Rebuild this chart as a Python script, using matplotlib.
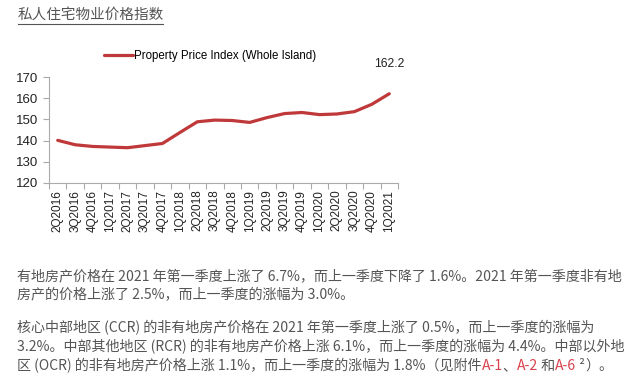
import matplotlib
matplotlib.use('Agg')
import matplotlib.pyplot as plt
from matplotlib.lines import Line2D
import numpy as np

plt.rcParams['font.family'] = ['Liberation Sans', 'DejaVu Sans']

# data
quarters = ['2Q2016', '3Q2016', '4Q2016', '1Q2017', '2Q2017', '3Q2017', '4Q2017',
            '1Q2018', '2Q2018', '3Q2018', '4Q2018', '1Q2019', '2Q2019', '3Q2019',
            '4Q2019', '1Q2020', '2Q2020', '3Q2020', '4Q2020', '1Q2021']
ppi = [140.1, 138.0, 137.2, 136.9, 136.6, 137.6, 138.6,
       143.8, 148.9, 149.7, 149.5, 148.6, 150.9, 152.8,
       153.3, 152.3, 152.6, 153.7, 157.2, 162.2]
yticks = [120, 130, 140, 150, 160, 170]
legend_label = 'Property Price Index (Whole Island)'
title = '私人住宅物业价格指数'

para_lines = [
    [('有地房产价格在 2021 年第一季度上涨了 6.7%，而上一季度下降了 1.6%。2021 年第一季度非有地', 'g')],
    [('房产的价格上涨了 2.5%，而上一季度的涨幅为 3.0%。', 'g')],
    [('核心中部地区 (CCR) 的非有地房产价格在 2021 年第一季度上涨了 0.5%，而上一季度的涨幅为', 'g')],
    [('3.2%。中部其他地区 (RCR) 的非有地房产价格上涨 6.1%，而上一季度的涨幅为 4.4%。中部以外地', 'g')],
    [('区 (OCR) 的非有地房产价格上涨 1.1%，而上一季度的涨幅为 1.8%（见附件', 'g'),
     ('A-1', 'r'), ('、', 'g'), ('A-2', 'r'), (' 和', 'g'), ('A-6', 'r'),
     (' ²', 'g'), ('）。', 'g')],
]
line_y = [276.5, 295.5, 328, 347, 366]

W, H = 640, 381
fig = plt.figure(figsize=(W / 100, H / 100), dpi=100)
fig.patch.set_facecolor('white')

ax = fig.add_axes([49 / W, 1 - 182.7 / H, (398 - 49) / W, (182.7 - 77.3) / H])
x = np.arange(len(quarters))
red = '#c0393a'
ax.plot(x, ppi, color=red, lw=2.3, solid_capstyle='round', label=legend_label)
ax.set_xlim(-0.5, len(quarters) - 0.5)
ax.set_ylim(120, 170)
ax.set_yticks(yticks)
ax.set_xticks(x)
ax.set_xticklabels(quarters, rotation=90)
ax.set_xticks(np.arange(len(quarters) + 1) - 0.5, minor=True)
ax.tick_params(axis='x', which='major', length=0, pad=5, labelsize=8.5, colors='#222222')
ax.tick_params(axis='x', which='minor', length=4, color='#aaaaaa', width=0.8)
ax.tick_params(axis='y', length=4, color='#aaaaaa', width=0.8, labelsize=9.5, labelcolor='#222222')
for s in ['top', 'right']:
    ax.spines[s].set_visible(False)
for s in ['left', 'bottom']:
    ax.spines[s].set_color('#aaaaaa')
    ax.spines[s].set_linewidth(0.8)

ax.annotate(f'{ppi[-1]:.1f}', (x[-1], ppi[-1]), xytext=(0, 17), textcoords='offset points',
            ha='center', va='bottom', fontsize=8.8, color='#222222')

fig.legend(loc='center left', bbox_to_anchor=(104 / W, 1 - 56.5 / H), frameon=False,
           fontsize=8.3, handlelength=2.5, handletextpad=0.1, borderaxespad=0, borderpad=0)

# title with underline
cjk = ['Noto Sans CJK SC', 'DejaVu Sans']
fig.text(18 / W, 1 - 15 / H, title, family=cjk, fontsize=10.5, color='#555555',
         ha='left', va='center')
fig.add_artist(Line2D([18 / W, 163 / W], [1 - 23.5 / H, 1 - 23.5 / H], color='#555555', lw=0.8))

# paragraph text
r = fig.canvas.get_renderer()
cols = {'g': '#555555', 'r': '#d9414c'}
for segs, yp in zip(para_lines, line_y):
    xp = 17
    for txt, c in segs:
        t = fig.text(xp / W, 1 - yp / H, txt, family=cjk, fontsize=10.1, color=cols[c],
                     ha='left', va='center')
        xp += t.get_window_extent(renderer=r).width

fig.savefig('out.png', dpi=100)
